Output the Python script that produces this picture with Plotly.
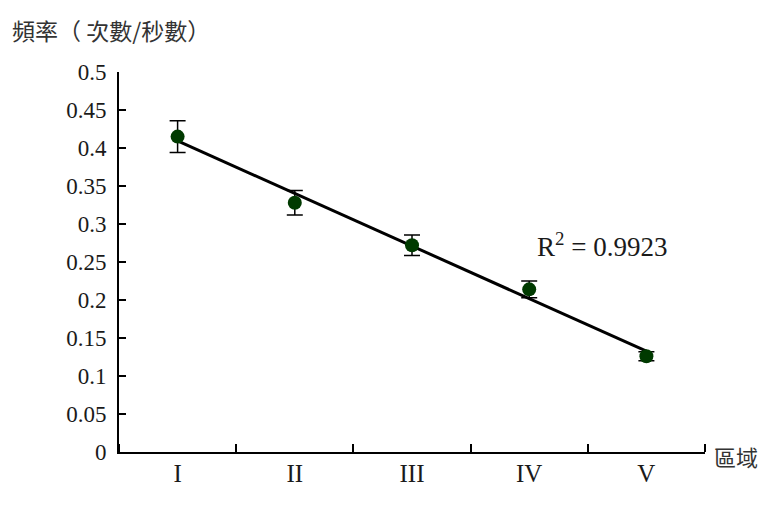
import numpy as np
import plotly.graph_objects as go

# Regions and measured frequency (counts per second)
regions = ["I", "II", "III", "IV", "V"]
freq = [0.415, 0.328, 0.272, 0.214, 0.126]
freq_err = [0.021, 0.016, 0.0135, 0.011, 0.006]
y_ticks = [0, 0.05, 0.1, 0.15, 0.2, 0.25, 0.3, 0.35, 0.4, 0.45, 0.5]

x_pos = np.arange(1, len(regions) + 1)

# Linear trend line and coefficient of determination
slope, intercept = np.polyfit(x_pos, freq, 1)
fit = slope * x_pos + intercept
ss_res = np.sum((np.array(freq) - fit) ** 2)
ss_tot = np.sum((np.array(freq) - np.mean(freq)) ** 2)
r2 = 1 - ss_res / ss_tot

serif = "Liberation Serif, Times New Roman, Noto Sans CJK TC, serif"
cjk = "Noto Sans CJK TC, Liberation Serif, serif"

# plot-area geometry in pixels
L, R, T, B = 119, 55, 72, 55
W, H = 760 - L - R, 507 - T - B

fig = go.Figure()
fig.add_trace(go.Scatter(
    x=x_pos, y=fit, mode="lines",
    line=dict(color="black", width=3),
    hoverinfo="skip", showlegend=False,
))
fig.add_trace(go.Scatter(
    x=x_pos, y=freq, mode="markers",
    marker=dict(color="#003a00", size=14),
    error_y=dict(type="data", array=freq_err, visible=True,
                 color="black", thickness=1.5, width=8),
    showlegend=False,
))

fig.update_layout(
    width=760, height=507,
    margin=dict(l=L, r=R, t=T, b=B),
    paper_bgcolor="white", plot_bgcolor="white",
    font=dict(family=serif, size=21, color="#1a1a1a"),
    xaxis=dict(
        range=[0.5, 5.5], tickvals=list(x_pos), ticktext=regions,
        ticks="", showgrid=False, zeroline=False,
        showline=True, linecolor="black", linewidth=2,
        tickfont=dict(family=serif, size=25, color="#1a1a1a"),
        ticklabelstandoff=-2,
        minor=dict(ticks="inside", tick0=0.5, dtick=1, ticklen=8,
                   tickwidth=1.5, tickcolor="black", showgrid=False),
    ),
    yaxis=dict(
        range=[0, 0.5], tickvals=y_ticks,
        ticktext=[f"{v:g}" for v in y_ticks],
        ticks="inside", ticklen=7, tickwidth=1.5, tickcolor="black",
        showgrid=False, zeroline=False,
        showline=True, linecolor="black", linewidth=2,
        tickfont=dict(family=serif, size=23, color="#1a1a1a"),
        ticklabelstandoff=6,
    ),
)

# y-axis caption above the plot
fig.add_annotation(
    text="頻率（ 次數/秒數）", xref="paper", yref="paper",
    x=(10 - L) / W, y=1 + (T - 30) / H,
    xanchor="left", yanchor="middle", showarrow=False,
    font=dict(family=cjk, size=23, color="#333"),
)
# x-axis caption at the right end of the axis
fig.add_annotation(
    text="區域", xref="paper", yref="paper",
    x=1 + (712 - (L + W)) / W, y=-(456 - (T + H)) / H,
    xanchor="left", yanchor="middle", showarrow=False,
    font=dict(family=cjk, size=22, color="#333"),
)
fig.add_annotation(
    text=f"R<sup>2</sup> = {r2:.4f}", x=4.62, y=0.272,
    xanchor="center", yanchor="middle", showarrow=False,
    font=dict(family=serif, size=27, color="#1a1a1a"),
)

fig.write_html("out.html")
